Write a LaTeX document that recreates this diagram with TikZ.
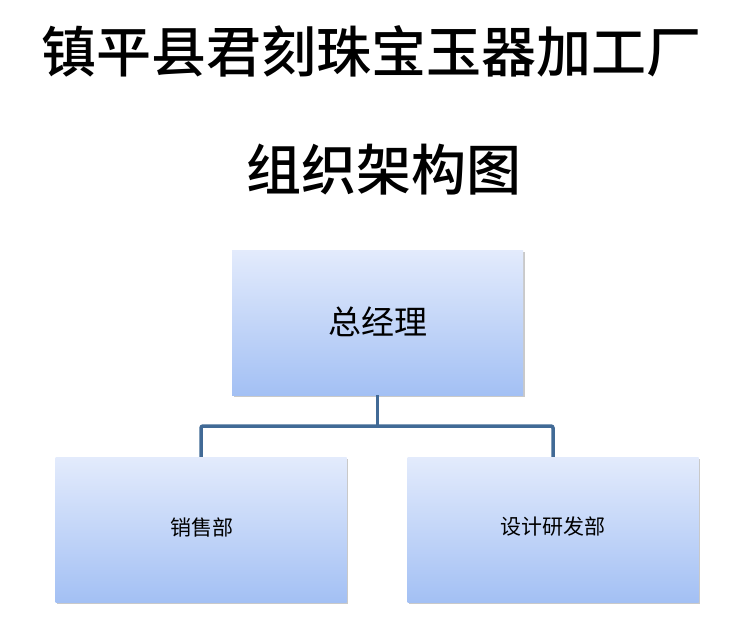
\documentclass[tikz,border=0pt]{standalone}
\usepackage{fontspec}
\newfontfamily\cjk{Noto Sans CJK SC}
\newfontfamily\cjkmed{Noto Sans CJK SC Medium}
\usetikzlibrary{shadows}
\definecolor{boxtop}{HTML}{E3EBFC}
\definecolor{boxbot}{HTML}{A3C0F4}
\definecolor{linec}{HTML}{416A96}
\tikzset{
  orgbox/.style={rectangle, minimum width=291pt, minimum height=145pt, inner sep=0pt,
    top color=boxtop, bottom color=boxbot, draw=none,
    drop shadow={shadow xshift=1.5pt, shadow yshift=-2pt, opacity=0.35, fill=black!60}},
  conn/.style={draw=linec, line width=3.5pt, rounded corners=2pt},
  titletext/.style={font=\cjkmed\fontsize{55}{60}\selectfont, inner sep=0pt}
}
\begin{document}
\begin{tikzpicture}[x=1pt,y=-1pt]
\useasboundingbox (0,0) rectangle (754,633);
\fill[white] (0,0) rectangle (754,633);
\node[titletext] (t1) at (371,51) {镇平县君刻珠宝玉器加工厂};
\node[titletext] (t2) at (384,170) {组织架构图};
\node[orgbox] (gm) at (377.5,322.5) {};
\node[font=\cjk\fontsize{33}{36}\selectfont] (gmt) at (378,322) {总经理};
\node[orgbox] (sales) at (201,529.5) {};
\node[font=\cjk\fontsize{21}{24}\selectfont] (salest) at (202,527) {销售部};
\node[orgbox] (rd) at (553,529.5) {};
\node[font=\cjk\fontsize{21}{24}\selectfont] (rdt) at (553,527) {设计研发部};
\coordinate (j) at (377.5,426);
\draw[conn] (gm.south) -- (j);
\draw[conn] (sales.north) |- (j) -| (rd.north);
\end{tikzpicture}
\end{document}
